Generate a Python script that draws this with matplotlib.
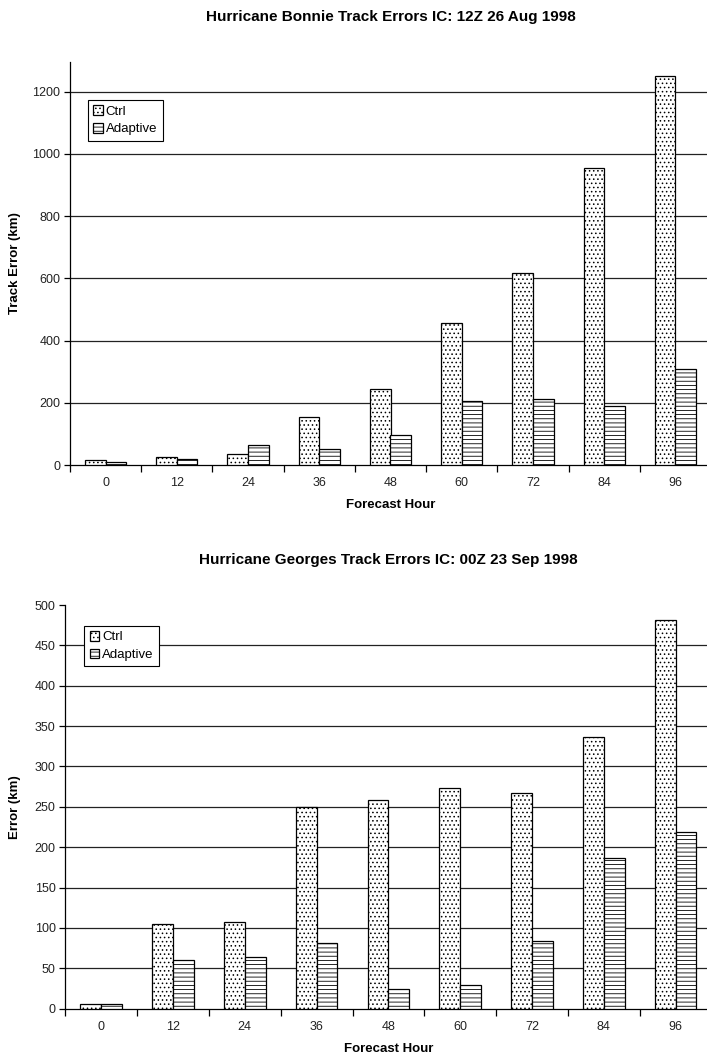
import matplotlib
matplotlib.use("Agg")
import matplotlib.pyplot as plt
import numpy as np

plt.rcParams['font.family'] = ['Liberation Sans', 'DejaVu Sans']
plt.rcParams['hatch.color'] = 'black'
plt.rcParams['hatch.linewidth'] = 0.6

hours = ["0", "12", "24", "36", "48", "60", "72", "84", "96"]
series = ["Ctrl", "Adaptive"]

bonnie_ctrl = [16, 25, 34, 154, 243, 455, 617, 954, 1249]
bonnie_adaptive = [9, 18, 65, 53, 95, 206, 211, 188, 307]

georges_ctrl = [6, 105, 107, 250, 259, 273, 267, 337, 482]
georges_adaptive = [6, 60, 64, 81, 24, 29, 84, 187, 219]

bonnie_title = "Hurricane Bonnie Track Errors IC: 12Z 26 Aug 1998"
georges_title = "Hurricane Georges Track Errors IC: 00Z 23 Sep 1998"

W, H = 707, 1060
fig = plt.figure(figsize=(W / 100, H / 100), dpi=100)


def px_axes(left, right, top, bottom):
    return fig.add_axes([left / W, 1 - bottom / H, (right - left) / W, (bottom - top) / H])


def draw_panel(ax, ctrl, adaptive, ymax, ystep, ylabel, title, title_y, ylabel_x, legend_xy):
    n = len(hours)
    centers = np.arange(n) + 0.5
    bw = 0.29
    b1 = ax.bar(centers - bw / 2, ctrl, width=bw, color='white', edgecolor='black',
                linewidth=0.9, hatch='....', zorder=3, label=series[0])
    b2 = ax.bar(centers + bw / 2, adaptive, width=bw, color='white', edgecolor='black',
                linewidth=0.9, hatch='----', zorder=3, label=series[1])
    ax.set_xlim(0, n)
    ax.set_ylim(0, ymax)
    yt = np.arange(0, ymax + 1e-9, ystep)
    ax.set_yticks(yt)
    ax.set_yticklabels([f"{int(v)}" for v in yt])
    for v in yt[1:]:
        if v < ymax:
            ax.axhline(v, color='#222222', linewidth=0.9, zorder=1)
    ax.set_xticks(np.arange(n + 1))
    ax.set_xticklabels([])
    ax.set_xticks(centers, minor=True)
    ax.set_xticklabels(hours, minor=True)
    ax.tick_params(axis='x', which='major', direction='out', length=5, width=0.9, color='black')
    ax.tick_params(axis='x', which='minor', length=0, pad=9, labelsize=9, labelcolor='#222222')
    ax.tick_params(axis='y', direction='out', length=4, width=0.9, labelsize=9,
                   labelcolor='#222222', pad=3)
    for s in ('top', 'right'):
        ax.spines[s].set_visible(False)
    for s in ('left', 'bottom'):
        ax.spines[s].set_linewidth(0.9)
        ax.spines[s].set_color('black')
    ax.set_xlabel("Forecast Hour", fontsize=9.5, fontweight='bold', labelpad=7)
    pos = ax.get_position()
    fig.text((pos.x0 + pos.x1) / 2, 1 - title_y / H, title, ha='center', va='center',
             fontsize=11, fontweight='bold')
    fig.text(ylabel_x / W, (pos.y0 + pos.y1) / 2, ylabel, rotation=90, ha='center',
             va='center', fontsize=9.5, fontweight='bold')
    leg = ax.legend(handles=[b1, b2], loc='upper left',
                    bbox_to_anchor=(legend_xy[0] / W, 1 - legend_xy[1] / H),
                    bbox_transform=fig.transFigure, fancybox=False, framealpha=1,
                    edgecolor='black', fontsize=9.5, handlelength=0.75, handleheight=0.75,
                    handletextpad=0.2, borderpad=0.4, labelspacing=0.4,
                    borderaxespad=0)
    leg.get_frame().set_linewidth(0.8)
    leg.set_zorder(5)


ax1 = px_axes(70, 711, 62, 465)
draw_panel(ax1, bonnie_ctrl, bonnie_adaptive, 1295, 200, "Track Error (km)",
           bonnie_title, 17, 15, (88, 100))

ax2 = px_axes(65.3, 711.5, 605, 1008.7)
draw_panel(ax2, georges_ctrl, georges_adaptive, 500, 50, "Error (km)",
           georges_title, 560, 15, (84.3, 625.7))

fig.savefig("out.png", dpi=100)
